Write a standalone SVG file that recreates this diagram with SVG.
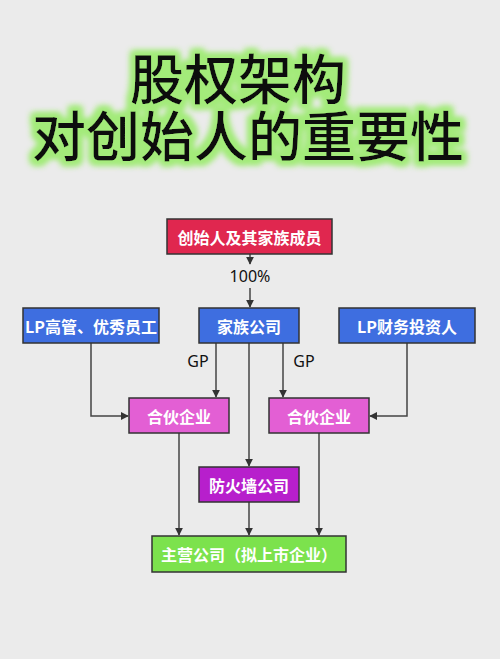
<svg xmlns="http://www.w3.org/2000/svg" width="500" height="659" viewBox="0 0 500 659">
<defs>
<style>
.t{font-family:"Noto Sans CJK SC","Noto Sans",sans-serif;font-weight:bold;fill:#fff;font-size:16px;text-anchor:middle;dominant-baseline:central}
.lb{font-family:"Noto Sans","Noto Sans CJK SC",sans-serif;fill:#111;font-size:16px;text-anchor:middle;dominant-baseline:central}
.box{stroke:#333;stroke-width:1.5}
.ttl{font-family:"Noto Sans CJK SC",sans-serif;font-weight:500;fill:#111;font-size:54px;text-anchor:middle}
.c{fill:none;stroke:#444;stroke-width:1.5;marker-end:url(#ah)}
</style>
<marker id="ah" viewBox="0 0 10 10" refX="9" refY="5" markerWidth="8" markerHeight="8" orient="auto" markerUnits="userSpaceOnUse"><path d="M0,0 L10,5 L0,10 Z" fill="#333"/></marker>
<filter id="glow" x="-10%" y="-30%" width="120%" height="160%">
<feMorphology in="SourceAlpha" operator="dilate" radius="4" result="d"/>
<feGaussianBlur in="d" stdDeviation="3" result="b"/>
<feFlood flood-color="#a3eb7a"/>
<feComposite in2="b" operator="in" result="g"/>
<feMerge><feMergeNode in="g"/><feMergeNode in="g"/><feMergeNode in="SourceGraphic"/></feMerge>
</filter>
</defs>
<rect width="500" height="659" fill="#ebebeb"/>
<g id="title" filter="url(#glow)">
<text class="ttl" x="238" y="100">股权架构</text>
<text class="ttl" x="248" y="157">对创始人的重要性</text>
</g>
<g id="connectors">
<path class="c" d="M250,254 V264"/>
<path class="c" d="M250,288 V307"/>
<path class="c" d="M216,343 V397"/>
<path class="c" d="M283,343 V397"/>
<path class="c" d="M249,343 V466"/>
<path class="c" d="M91,343 V416 H128"/>
<path class="c" d="M407,343 V416 H370"/>
<path class="c" d="M179,433 V535"/>
<path class="c" d="M319,433 V535"/>
<path class="c" d="M249,502 V535"/>
<text class="lb" x="250" y="276">100%</text>
<text class="lb" x="198" y="361">GP</text>
<text class="lb" x="304" y="361">GP</text>
</g>
<g id="founder"><rect class="box" x="167" y="219" width="165" height="35" fill="#e0274f"/><text class="t" x="249.5" y="237">创始人及其家族成员</text></g>
<g id="lp-staff"><rect class="box" x="23" y="308" width="136" height="35" fill="#3e6ee0"/><text class="t" x="91" y="326">LP高管、优秀员工</text></g>
<g id="family-co"><rect class="box" x="199" y="308" width="100" height="35" fill="#3e6ee0"/><text class="t" x="249" y="326">家族公司</text></g>
<g id="lp-investor"><rect class="box" x="339" y="308" width="136" height="35" fill="#3e6ee0"/><text class="t" x="407" y="326">LP财务投资人</text></g>
<g id="partner-left"><rect class="box" x="129" y="398" width="100" height="35" fill="#e35fd4"/><text class="t" x="179" y="416">合伙企业</text></g>
<g id="partner-right"><rect class="box" x="269" y="398" width="100" height="35" fill="#e35fd4"/><text class="t" x="319" y="416">合伙企业</text></g>
<g id="firewall"><rect class="box" x="199" y="467" width="100" height="35" fill="#b71fcc"/><text class="t" x="249" y="485">防火墙公司</text></g>
<g id="main-co"><rect class="box" x="152" y="536" width="194" height="36" fill="#7ce24d"/><text class="t" x="249" y="554">主营公司（拟上市企业）</text></g>
</svg>
